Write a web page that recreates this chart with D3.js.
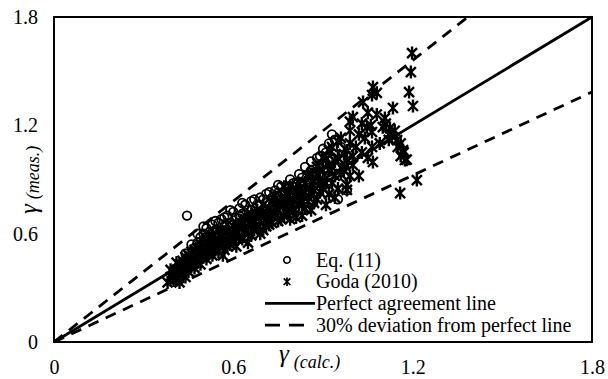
<!DOCTYPE html>
<html>
<head>
<meta charset="utf-8">
<script src="https://cdn.jsdelivr.net/npm/d3@7"></script>
<style>
  body { margin: 0; background: #fff; }
  svg { display: block; }
</style>
</head>
<body>
<div id="chart"></div>
<script>
// data: [gamma calc, gamma meas]
const eq11Points = [
  [0.445,0.70],[0.47,0.52],[0.48,0.55],[0.49,0.58],[0.50,0.60],[0.51,0.63],[0.52,0.61],[0.50,0.55],
  [0.53,0.65],[0.52,0.57],[0.54,0.62],[0.55,0.66],[0.55,0.60],[0.56,0.68],[0.57,0.64],[0.56,0.57],
  [0.58,0.70],[0.59,0.66],[0.60,0.72],[0.60,0.62],[0.61,0.69],[0.62,0.74],[0.62,0.66],[0.616,0.57],
  [0.63,0.71],[0.64,0.76],[0.65,0.69],[0.66,0.73],[0.66,0.78],[0.67,0.70],[0.68,0.76],[0.69,0.80],
  [0.70,0.73],[0.70,0.79],[0.71,0.82],[0.72,0.76],[0.73,0.80],[0.74,0.84],[0.74,0.74],[0.75,0.87],
  [0.76,0.79],[0.77,0.83],[0.78,0.86],[0.78,0.76],[0.79,0.90],[0.80,0.82],[0.81,0.88],[0.82,0.93],
  [0.82,0.80],[0.83,0.86],[0.84,0.97],[0.85,0.90],[0.85,0.83],[0.86,1.00],[0.87,0.94],[0.88,0.88],
  [0.89,1.03],[0.89,0.96],[0.90,1.07],[0.91,0.99],[0.92,1.10],[0.92,0.92],[0.93,1.15],[0.94,1.04],
  [0.95,0.79],[0.96,1.08],[0.98,0.84],[0.97,0.97],[0.63,0.61],[0.58,0.58],[0.53,0.53],[0.68,0.66],
  [0.72,0.70],[0.76,0.73],[0.80,0.77],
  [0.46,0.54],[0.48,0.60],[0.50,0.64],[0.51,0.58],[0.53,0.61],[0.54,0.67],[0.55,0.56],[0.57,0.69],
  [0.58,0.62],[0.59,0.73],[0.61,0.64],[0.62,0.70],[0.63,0.77],[0.64,0.67],[0.65,0.73],[0.67,0.79],
  [0.68,0.71],[0.69,0.76],[0.71,0.77],[0.72,0.83],[0.73,0.75],[0.75,0.81],[0.76,0.86],[0.77,0.78],
  [0.79,0.84],[0.80,0.88],[0.81,0.79],[0.83,0.91],[0.84,0.84],[0.86,0.95],[0.87,0.88],[0.88,1.02],
  [0.90,0.99],[0.91,1.05],[0.93,1.01],[0.94,1.12],[0.95,0.97],[0.44,0.49],[0.45,0.45],[0.47,0.48]
];
const godaPoints = [
  [0.39,0.36],[0.40,0.38],[0.40,0.34],[0.41,0.40],[0.42,0.37],[0.42,0.43],[0.43,0.39],[0.43,0.45],
  [0.44,0.41],[0.44,0.36],[0.45,0.44],[0.45,0.48],[0.46,0.42],[0.46,0.50],[0.47,0.46],[0.48,0.44],
  [0.48,0.52],[0.49,0.49],[0.50,0.47],[0.50,0.53],[0.51,0.50],[0.52,0.55],[0.52,0.49],[0.53,0.52],
  [0.54,0.57],[0.55,0.54],[0.565,0.48],[0.56,0.59],[0.57,0.56],[0.58,0.61],[0.58,0.53],[0.59,0.58],
  [0.60,0.64],[0.60,0.56],[0.61,0.61],[0.62,0.58],[0.63,0.65],[0.64,0.62],[0.649,0.55],[0.65,0.68],
  [0.66,0.64],[0.66,0.59],[0.67,0.70],[0.68,0.63],[0.69,0.67],[0.70,0.72],[0.70,0.62],[0.71,0.68],
  [0.72,0.74],[0.72,0.65],[0.73,0.70],[0.74,0.77],[0.75,0.67],[0.75,0.73],[0.76,0.80],[0.77,0.70],
  [0.78,0.75],[0.78,0.82],[0.79,0.68],[0.80,0.79],[0.80,0.72],[0.81,0.85],[0.82,0.76],[0.83,0.82],
  [0.83,0.70],[0.84,0.88],[0.85,0.78],[0.86,0.93],[0.86,0.73],[0.87,0.84],[0.88,0.97],[0.88,0.79],
  [0.89,0.90],[0.90,1.02],[0.90,0.85],[0.91,0.76],[0.92,0.95],[0.92,1.06],[0.93,0.88],[0.94,1.00],
  [0.94,0.80],[0.95,1.11],[0.96,0.93],[0.97,1.04],[0.98,0.87],[0.99,1.17],[1.00,0.98],[1.00,1.246],
  [1.01,1.08],[1.02,0.92],[1.034,1.329],[1.04,1.13],[1.047,1.19],[1.05,1.02],[1.064,1.368],[1.064,1.163],
  [1.064,1.08],[1.067,1.412],[1.067,0.997],[1.08,1.26],[1.09,1.10],[1.107,1.24],[1.124,1.185],[1.134,1.296],
  [1.148,1.118],[1.168,1.063],[1.174,1.008],[1.158,0.825],[1.188,1.384],[1.194,1.495],[1.198,1.60],[1.201,1.307],
  [1.214,0.897],[0.98,0.842],[0.99,1.22],[1.03,1.21],[1.10,1.19],[1.12,1.15],[1.16,1.10],[1.17,1.05],
  [1.18,1.01],[1.13,1.14],[1.15,1.08],[1.12,1.12],[1.16,1.03],[1.14,1.17],[1.11,1.21],[0.98,1.01],
  [0.38,0.33],[0.39,0.40],[0.41,0.35],[0.41,0.44],[0.42,0.33],[0.43,0.42],[0.44,0.47],[0.45,0.39],
  [0.46,0.45],[0.47,0.41],[0.47,0.51],[0.48,0.47],[0.49,0.43],[0.49,0.54],[0.50,0.50],[0.51,0.46],
  [0.51,0.57],[0.52,0.52],[0.53,0.48],[0.53,0.59],[0.54,0.51],[0.55,0.62],[0.55,0.50],[0.56,0.55],
  [0.57,0.61],[0.57,0.51],[0.58,0.65],[0.59,0.54],[0.60,0.60],[0.61,0.53],[0.61,0.66],[0.62,0.63],
  [0.63,0.57],[0.64,0.68],[0.65,0.60],[0.66,0.71],[0.67,0.62],[0.67,0.66],[0.68,0.73],[0.69,0.60],
  [0.69,0.70],[0.70,0.76],[0.71,0.64],[0.72,0.69],[0.73,0.78],[0.73,0.66],[0.74,0.71],[0.74,0.81],
  [0.75,0.76],[0.76,0.68],[0.77,0.76],[0.77,0.86],[0.78,0.71],[0.79,0.79],[0.79,0.86],[0.80,0.74],
  [0.81,0.81],[0.81,0.69],[0.82,0.88],[0.83,0.77],[0.84,0.83],[0.84,0.74],[0.85,0.92],[0.86,0.82],
  [0.87,0.89],[0.87,0.77],[0.88,0.93],[0.89,0.83],[0.90,0.95],[0.91,0.88],[0.91,1.01],[0.92,0.82],
  [0.93,0.97],[0.93,1.08],[0.94,0.92],[0.95,1.02],[0.95,0.85],[0.96,1.13],[0.97,0.95],[0.98,1.06],
  [0.99,0.92],[0.99,1.10],[1.00,1.03],[1.02,1.15],[1.03,1.05],[1.05,1.27],[1.06,1.20],[1.08,1.38]
];
const tickValues = [0, 0.6, 1.2, 1.8];
const deviation = 0.3;
const legendLabels = ['Eq. (11)', 'Goda (2010)', 'Perfect agreement line', '30% deviation from perfect line'];
const serif = "'Liberation Serif', 'Times New Roman', serif";

const width = 608, height = 379;
const margin = {top: 17, right: 16, bottom: 37, left: 54};
const innerW = width - margin.left - margin.right;
const innerH = height - margin.top - margin.bottom;

const svg = d3.select('#chart').append('svg')
    .attr('width', width)
    .attr('height', height)
    .attr('font-family', serif);

const x = d3.scaleLinear([0, 1.8], [0, innerW]);
const y = d3.scaleLinear([0, 1.8], [innerH, 0]);

const chart = svg.append('g')
    .attr('transform', `translate(${margin.left},${margin.top})`);

// axes, labels only (frame drawn below)
const axisX = chart.append('g')
    .attr('transform', `translate(0,${innerH})`)
    .call(d3.axisBottom(x).tickValues(tickValues).tickSize(0).tickPadding(18).tickFormat(d3.format('')));
const axisY = chart.append('g')
    .call(d3.axisLeft(y).tickValues(tickValues).tickSize(0).tickPadding(16).tickFormat(d3.format('')));
[axisX, axisY].forEach(a => {
    a.attr('font-family', serif).attr('font-size', 20);
    a.select('.domain').remove();
});

// reference lines
const line = d3.line(d => x(d[0]), d => y(d[1]));
const refLines = [
    {pts: [[0, 0], [1.8, 1.8]], dash: null},
    {pts: [[0, 0], [1.8 / (1 + deviation), 1.8]], dash: '11,8'},
    {pts: [[0, 0], [1.8, 1.8 / (1 + deviation)]], dash: '11,8'}
];
chart.selectAll('path.ref')
    .data(refLines)
    .join('path')
    .classed('ref', true)
    .attr('d', d => line(d.pts))
    .attr('fill', 'none')
    .attr('stroke', '#000')
    .attr('stroke-width', 2.8)
    .attr('stroke-dasharray', d => d.dash);

// markers
const star = (sel, s, w) => sel.append('path')
    .attr('d', `M${-s},${-s}L${s},${s}M${-s},${s}L${s},${-s}M0,${-s * 1.3}L0,${s * 1.3}`)
    .attr('stroke', '#000').attr('stroke-width', w).attr('fill', 'none');

chart.selectAll('circle.eq')
    .data(eq11Points)
    .join('circle')
    .classed('eq', true)
    .attr('cx', d => x(d[0]))
    .attr('cy', d => y(d[1]))
    .attr('r', 4.3)
    .attr('fill', 'none')
    .attr('stroke', '#000')
    .attr('stroke-width', 1.8);

chart.selectAll('g.goda')
    .data(godaPoints)
    .join('g')
    .classed('goda', true)
    .attr('transform', d => `translate(${x(d[0])},${y(d[1])})`)
    .each(function() { star(d3.select(this), 5, 2.4); });

// frame
chart.append('rect')
    .attr('width', innerW).attr('height', innerH)
    .attr('fill', 'none').attr('stroke', '#000').attr('stroke-width', 2);

// legend
const legend = svg.append('g').attr('transform', 'translate(265,260)');
const rows = legend.selectAll('g').data(legendLabels).join('g')
    .attr('transform', (d, i) => `translate(0,${i * 21.7})`);
rows.append('text')
    .attr('x', 51).attr('dy', '0.33em')
    .attr('font-size', 20)
    .text(d => d);
rows.filter((d, i) => i === 0).append('circle')
    .attr('cx', 22).attr('r', 3.2).attr('fill', 'none').attr('stroke', '#000').attr('stroke-width', 1.5);
rows.filter((d, i) => i === 1).append('g').attr('transform', 'translate(22,0)')
    .each(function() { star(d3.select(this), 3.3, 1.7); });
rows.filter((d, i) => i >= 2).append('line')
    .attr('x1', 0).attr('x2', (d, i) => i === 1 ? 40 : 50)
    .attr('stroke', '#000').attr('stroke-width', 2.8)
    .attr('stroke-dasharray', (d, i) => i === 1 ? '15,9' : null);

// axis titles
svg.append('text')
    .attr('x', 279).attr('y', 362)
    .attr('font-style', 'italic')
    .call(t => t.append('tspan').attr('font-size', 25).text('γ'))
    .call(t => t.append('tspan').attr('font-size', 18).attr('dx', 5).attr('dy', 6).text('(calc.)'));
svg.append('text')
    .attr('transform', 'translate(37,214)rotate(-90)')
    .attr('font-style', 'italic')
    .call(t => t.append('tspan').attr('font-size', 25).text('γ'))
    .call(t => t.append('tspan').attr('font-size', 18).attr('dx', 5).attr('dy', 2).text('(meas.)'));
</script>
</body>
</html>
